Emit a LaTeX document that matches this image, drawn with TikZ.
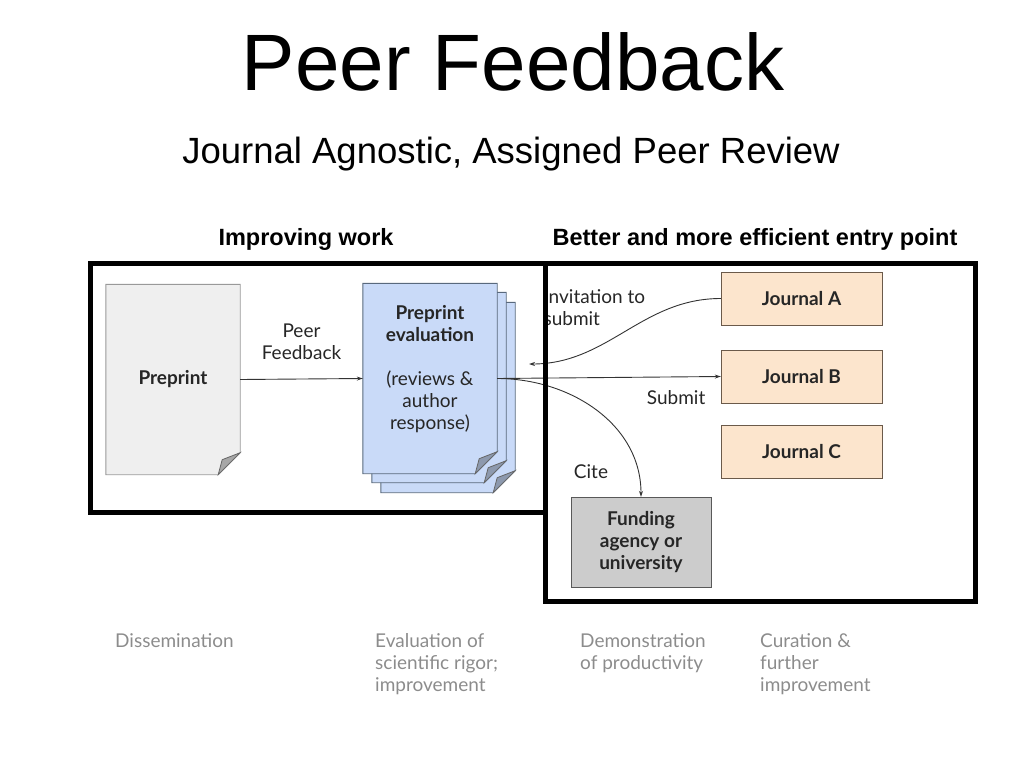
\documentclass[tikz,border=0pt]{standalone}
\usepackage{fontspec}
\setmainfont{Liberation Sans}
\newfontfamily\figfont{Lato}
\usetikzlibrary{arrows.meta,backgrounds}

\definecolor{docgray}{HTML}{EFEFEF}
\definecolor{evalblue}{HTML}{C9DAF8}
\definecolor{evalline}{HTML}{59697D}
\definecolor{jourfill}{HTML}{FCE5CD}
\definecolor{jourline}{HTML}{6B5A4A}
\definecolor{fundfill}{HTML}{CCCCCC}
\definecolor{notegray}{HTML}{8C8C8C}

\tikzset{
   figtxt/.style={font=\figfont\fontsize{19}{22}\selectfont, text=black!85, align=center},
   pagebox/.style={figtxt, minimum width=134, minimum height=190, inner sep=0},
   jourbox/.style={figtxt, font=\figfont\bfseries\fontsize{19}{22}\selectfont, draw=jourline, fill=jourfill, minimum width=161, minimum height=53},
   fundbox/.style={figtxt, font=\figfont\bfseries\fontsize{19}{22}\selectfont, draw=black!65, fill=fundfill, minimum width=140, minimum height=90},
   notetxt/.style={font=\figfont\fontsize{19}{22}\selectfont, text=notegray, align=left, anchor=north west, inner sep=0},
   link/.style={draw=black!80, line width=0.9pt, -{Stealth[length=6pt,width=4pt]}},
   frame/.style={draw=black, line width=5pt},
   fold/.style={draw=black!60, line width=0.8pt, fill=#1},
}

% page with a folded corner round node #1, moved by (#2,#3)
\newcommand\foldpage[5]{%
   \draw[draw=#4, line width=0.9pt, fill=#5] ([shift={(#2,#3)}]#1.north west) -- ([shift={(#2,#3)}]#1.north east)
      -- ([shift={(#2,#3-22)}]#1.south east) -- ([shift={(#2-22,#3)}]#1.south east)
      -- ([shift={(#2,#3)}]#1.south west) -- cycle;
   \draw[fold=#5!70!black] ([shift={(#2,#3-22)}]#1.south east) -- ([shift={(#2-22,#3)}]#1.south east)
      -- ([shift={(#2-18,#3-15)}]#1.south east) -- cycle;
}

\begin{document}
\begin{tikzpicture}[x=1pt, y=-1pt]
   \useasboundingbox (0,0) rectangle (1024,768);

   \node[anchor=base, font=\fontsize{80}{90}\selectfont] (title) at (513,90) {Peer Feedback};
   \node[anchor=base, font=\fontsize{36.5}{40}\selectfont] (subtitle) at (511,163) {Journal Agnostic, Assigned Peer Review};
   \node[anchor=base, font=\bfseries\fontsize{23.5}{26}\selectfont] (improve) at (306,245) {Improving work};
   \node[anchor=base, font=\bfseries\fontsize{23.5}{26}\selectfont] (entry) at (755,245) {Better and more efficient entry point};

   % pages
   \node[pagebox, font=\figfont\bfseries\fontsize{19}{22}\selectfont] (prep) at (173,379.5) {Preprint};
   \node[pagebox] (eval) at (430,378.5) {};
   \node[figtxt] (evaltxt) at (430,369) {\textbf{Preprint}\\\textbf{evaluation}\\[22pt](reviews \&\\author\\response)};
   \begin{scope}[on background layer]
      \foldpage{prep}{0}{0}{black!40}{docgray}
      \foldpage{eval}{18}{19}{evalline}{evalblue}
      \foldpage{eval}{9}{9}{evalline}{evalblue}
      \foldpage{eval}{0}{0}{evalline}{evalblue}
   \end{scope}

   \node[jourbox] (joura) at (801.5,298.5) {Journal A};
   \node[jourbox] (jourb) at (801.5,376.5) {Journal B};
   \node[jourbox] (jourc) at (801.5,451.5) {Journal C};
   \node[fundbox] (fund) at (641,542) {Funding\\agency or\\university};

   \coordinate (invite) at (529,364);
   \draw[link] (prep.east) -- (eval.west)
      node[figtxt, midway, above=16pt] (peerfb) {Peer\\Feedback};
   \draw[link] (eval.east) -- (jourb.west)
      node[figtxt, pos=0.8, below=10pt] (submit) {Submit};
   \draw[link] (joura.west) to[out=180, in=0] (invite);
   \draw[link] (eval.east) to[out=0, in=90] (fund.north);
   \node[figtxt, align=left, anchor=north west] (invtxt) at (540,286) {Invitation to\\submit};
   \node[figtxt] (cite) at (591,472) {Cite};

   % frames
   \draw[frame] (90,263) rectangle (545,512);
   \draw[frame] (545,263) rectangle (975,601);

   \node[notetxt] (dissem) at (115,633) {Dissemination};
   \node[notetxt] (rigor) at (375,633) {Evaluation of\\scientific rigor;\\improvement};
   \node[notetxt] (product) at (580,633) {Demonstration\\of productivity};
   \node[notetxt] (curate) at (760,633) {Curation \&\\further\\improvement};
\end{tikzpicture}
\end{document}
